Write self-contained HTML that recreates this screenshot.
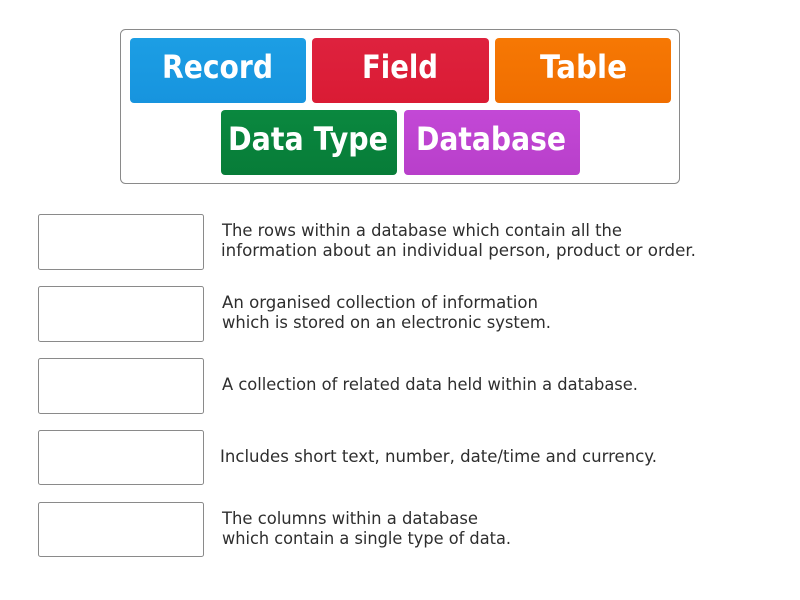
<!DOCTYPE html>
<html>
<head>
<meta charset="utf-8">
<style>
html,body{margin:0;padding:0;background:#fff;width:800px;height:600px;overflow:hidden}
svg{display:block}
.b{font-family:"DejaVu Sans","Liberation Sans",sans-serif;font-size:32px;font-weight:bold;fill:#fff}
.t{font-family:"DejaVu Sans","Liberation Sans",sans-serif;font-size:16.5px;fill:#2e2e2e}
</style>
</head>
<body>
<svg width="800" height="600" viewBox="0 0 800 600" xmlns="http://www.w3.org/2000/svg">
<defs>
<linearGradient id="g1" x1="0" y1="0" x2="0" y2="1"><stop offset="0" stop-color="#1c9ee4"/><stop offset="1" stop-color="#1794de"/></linearGradient>
<linearGradient id="g2" x1="0" y1="0" x2="0" y2="1"><stop offset="0" stop-color="#de223e"/><stop offset="1" stop-color="#da1b34"/></linearGradient>
<linearGradient id="g3" x1="0" y1="0" x2="0" y2="1"><stop offset="0" stop-color="#f67804"/><stop offset="1" stop-color="#f06e00"/></linearGradient>
<linearGradient id="g4" x1="0" y1="0" x2="0" y2="1"><stop offset="0" stop-color="#0a883f"/><stop offset="1" stop-color="#077c38"/></linearGradient>
<linearGradient id="g5" x1="0" y1="0" x2="0" y2="1"><stop offset="0" stop-color="#c348d6"/><stop offset="1" stop-color="#b83fca"/></linearGradient>
</defs>
<rect x="120.5" y="29.5" width="559" height="154" rx="5" fill="#fff" stroke="#8a8a8a"/>
<rect x="130" y="38" width="176" height="65" rx="4" fill="url(#g1)"/>
<rect x="312" y="38" width="177" height="65" rx="4" fill="url(#g2)"/>
<rect x="495" y="38" width="176" height="65" rx="4" fill="url(#g3)"/>
<rect x="221" y="110" width="176" height="65" rx="4" fill="url(#g4)"/>
<rect x="404" y="110" width="176" height="65" rx="4" fill="url(#g5)"/>
<text class="b" x="162" y="78" textLength="111" lengthAdjust="spacingAndGlyphs">Record</text>
<text class="b" x="362" y="78" textLength="76" lengthAdjust="spacingAndGlyphs">Field</text>
<text class="b" x="540" y="78" textLength="87" lengthAdjust="spacingAndGlyphs">Table</text>
<text class="b" x="228" y="150" textLength="160" lengthAdjust="spacingAndGlyphs">Data Type</text>
<text class="b" x="416" y="150" textLength="150" lengthAdjust="spacingAndGlyphs">Database</text>
<g fill="#fff" stroke="#8a8a8a">
<rect x="38.5" y="214.5" width="165" height="55" rx="2"/>
<rect x="38.5" y="286.5" width="165" height="55" rx="2"/>
<rect x="38.5" y="358.5" width="165" height="55" rx="2"/>
<rect x="38.5" y="430.5" width="165" height="54" rx="2"/>
<rect x="38.5" y="502.5" width="165" height="54" rx="2"/>
</g>
<text class="t" x="222" y="236" textLength="400" lengthAdjust="spacingAndGlyphs">The rows within a database which contain all the</text>
<text class="t" x="221" y="256" textLength="475" lengthAdjust="spacingAndGlyphs">information about an individual person, product or order.</text>
<text class="t" x="222" y="308" textLength="316" lengthAdjust="spacingAndGlyphs">An organised collection of information</text>
<text class="t" x="222" y="328" textLength="329" lengthAdjust="spacingAndGlyphs">which is stored on an electronic system.</text>
<text class="t" x="222" y="390" textLength="416" lengthAdjust="spacingAndGlyphs">A collection of related data held within a database.</text>
<text class="t" x="220" y="462" textLength="437" lengthAdjust="spacingAndGlyphs">Includes short text, number, date/time and currency.</text>
<text class="t" x="222" y="524" textLength="256" lengthAdjust="spacingAndGlyphs">The columns within a database</text>
<text class="t" x="222" y="544" textLength="289" lengthAdjust="spacingAndGlyphs">which contain a single type of data.</text>
</svg>
</body>
</html>
